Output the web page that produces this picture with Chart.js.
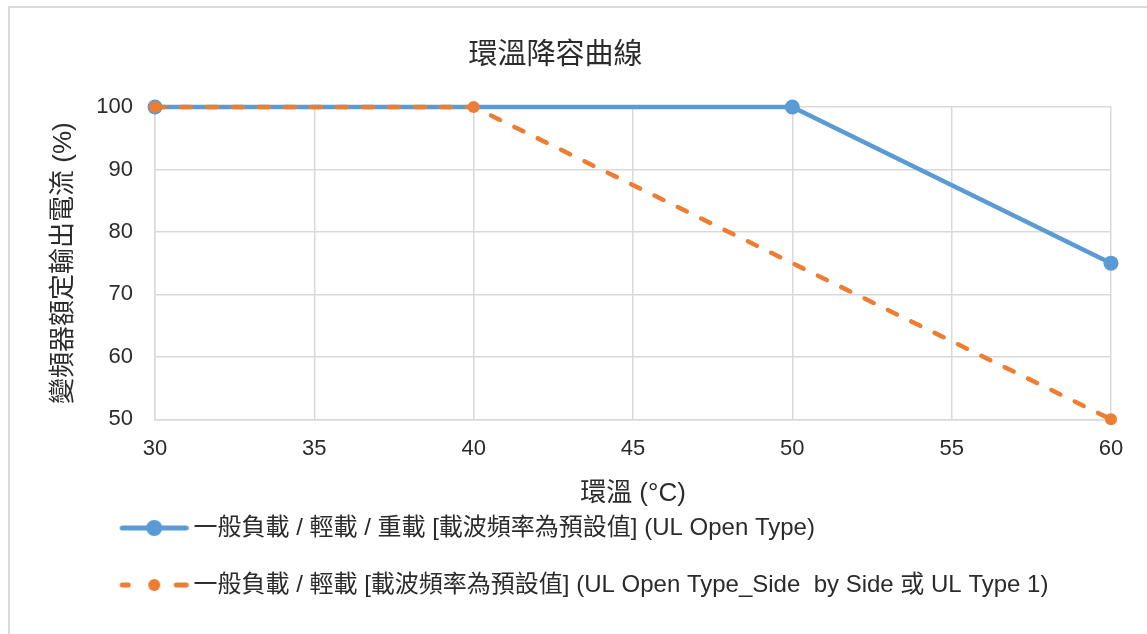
<!DOCTYPE html>
<html>
<head>
<meta charset="utf-8">
<script src="https://cdn.jsdelivr.net/npm/chart.js@4/dist/chart.umd.min.js"></script>
<style>
  html, body { margin: 0; padding: 0; background: #fff; overflow: hidden; }
  #frame { position: absolute; left: 8px; top: 6px; width: 1200px; height: 700px; border: 2px solid #d9d9d9; }
  #box { position: absolute; left: 0; top: 0; width: 1147px; height: 634px; }
</style>
</head>
<body>
<div id="frame"></div>
<div id="box"><canvas id="derate-chart"></canvas></div>
<script>
// 環溫降容曲線 data
const chartTitle = '環溫降容曲線';
const xTitle = '環溫 (°C)';
const yTitle = '變頻器額定輸出電流 (%)';
const seriesNames = [
    '一般負載 / 輕載 / 重載 [載波頻率為預設值] (UL Open Type)',
    '一般負載 / 輕載 [載波頻率為預設值] (UL Open Type_Side  by Side 或 UL Type 1)'
];
const blueTemp = [30, 50, 60];
const blueCurrent = [100, 100, 75];
const orangeTemp = [30, 40, 60];
const orangeCurrent = [100, 100, 50];
const xRange = [30, 60, 5];
const yRange = [50, 100, 10];

const BLUE = '#5b9bd5';
const ORANGE = '#ed7d31';
const GRID = '#d9d9d9';
const TEXT = '#2b2b2b';
const FONT = "'Liberation Sans', Arial, 'Noto Sans CJK TC', sans-serif";

Chart.defaults.font.family = FONT;
Chart.defaults.color = TEXT;

// legend sample: line with a marker in the middle (drawn off-centre so the text lines up)
function legendSample(color, dashed, r) {
    var c = document.createElement('canvas');
    c.width = 170;
    c.height = 20;
    var g = c.getContext('2d');
    var x0 = 98, x1 = 166, cy = 10;
    g.strokeStyle = color;
    g.fillStyle = color;
    g.lineWidth = 5;
    g.lineCap = 'round';
    if (dashed) {
        g.beginPath(); g.moveTo(x0 + 2, cy); g.lineTo(x0 + 8, cy); g.stroke();
        g.beginPath(); g.moveTo(x1 - 12, cy); g.lineTo(x1 - 2, cy); g.stroke();
    } else {
        g.beginPath(); g.moveTo(x0 + 2, cy); g.lineTo(x1 - 2, cy); g.stroke();
    }
    g.beginPath();
    g.arc((x0 + x1) / 2, cy, r, 0, Math.PI * 2);
    g.fill();
    return c;
}

function toPoints(xs, ys) {
    return xs.map(function (x, i) { return { x: x, y: ys[i] }; });
}

var ctx = document.getElementById('derate-chart');
var samples = [legendSample(BLUE, false, 8), legendSample(ORANGE, true, 6)];

var derateChart = new Chart(ctx, {
    type: 'line',
    data: {
        datasets: [
            {
                label: seriesNames[0],
                data: toPoints(blueTemp, blueCurrent),
                borderColor: BLUE,
                backgroundColor: BLUE,
                borderWidth: 4.5,
                pointRadius: 7.5,
                pointHoverRadius: 7.5,
                pointBackgroundColor: BLUE,
                pointBorderWidth: 0,
                tension: 0,
                clip: false,
                order: 2
            },
            {
                label: seriesNames[1],
                data: toPoints(orangeTemp, orangeCurrent),
                borderColor: ORANGE,
                backgroundColor: ORANGE,
                borderWidth: 4.5,
                borderDash: [10, 16],
                borderCapStyle: 'round',
                pointRadius: 6,
                pointHoverRadius: 6,
                pointBackgroundColor: ORANGE,
                pointBorderWidth: 0,
                tension: 0,
                clip: false,
                order: 1
            }
        ]
    },
    options: {
        responsive: true,
        maintainAspectRatio: false,
        animation: false,
        layout: {
            padding: { left: 0, right: 36, top: 0, bottom: 27 }
        },
        plugins: {
            title: {
                display: true,
                text: chartTitle,
                color: TEXT,
                font: { size: 29, weight: 'normal' },
                padding: { top: 38.6, bottom: 33.6 }
            },
            legend: {
                display: true,
                position: 'bottom',
                align: 'start',
                onClick: null,
                labels: {
                    usePointStyle: true,
                    pointStyleWidth: 148.5,
                    padding: 33,
                    color: TEXT,
                    font: { size: 24 },
                    generateLabels: function (chart) {
                        return chart.data.datasets.map(function (ds, i) {
                            return {
                                text: ds.label,
                                pointStyle: samples[i],
                                fillStyle: ds.borderColor,
                                strokeStyle: ds.borderColor,
                                lineWidth: 0,
                                fontColor: TEXT,
                                datasetIndex: i
                            };
                        });
                    }
                }
            },
            tooltip: { enabled: false }
        },
        scales: {
            x: {
                type: 'linear',
                min: xRange[0],
                max: xRange[1],
                grid: { color: GRID, lineWidth: 1.5, drawTicks: false },
                border: { color: GRID, width: 1.5 },
                ticks: {
                    stepSize: xRange[2],
                    padding: 16,
                    color: TEXT,
                    font: { size: 22 }
                },
                title: {
                    display: true,
                    text: xTitle,
                    color: TEXT,
                    font: { size: 26 },
                    padding: { top: 0.6, bottom: -26.5 }
                }
            },
            y: {
                min: yRange[0],
                max: yRange[1],
                grid: { color: GRID, lineWidth: 1.5, drawTicks: false },
                border: { color: GRID, width: 1.5 },
                ticks: {
                    stepSize: yRange[2],
                    padding: 22,
                    color: TEXT,
                    font: { size: 22 }
                },
                title: {
                    display: true,
                    text: yTitle,
                    color: TEXT,
                    font: { size: 26 },
                    padding: { top: 48, bottom: 0 }
                },
                afterFit: function (scale) {
                    scale.width = 155;
                }
            }
        }
    }
});
</script>
</body>
</html>
